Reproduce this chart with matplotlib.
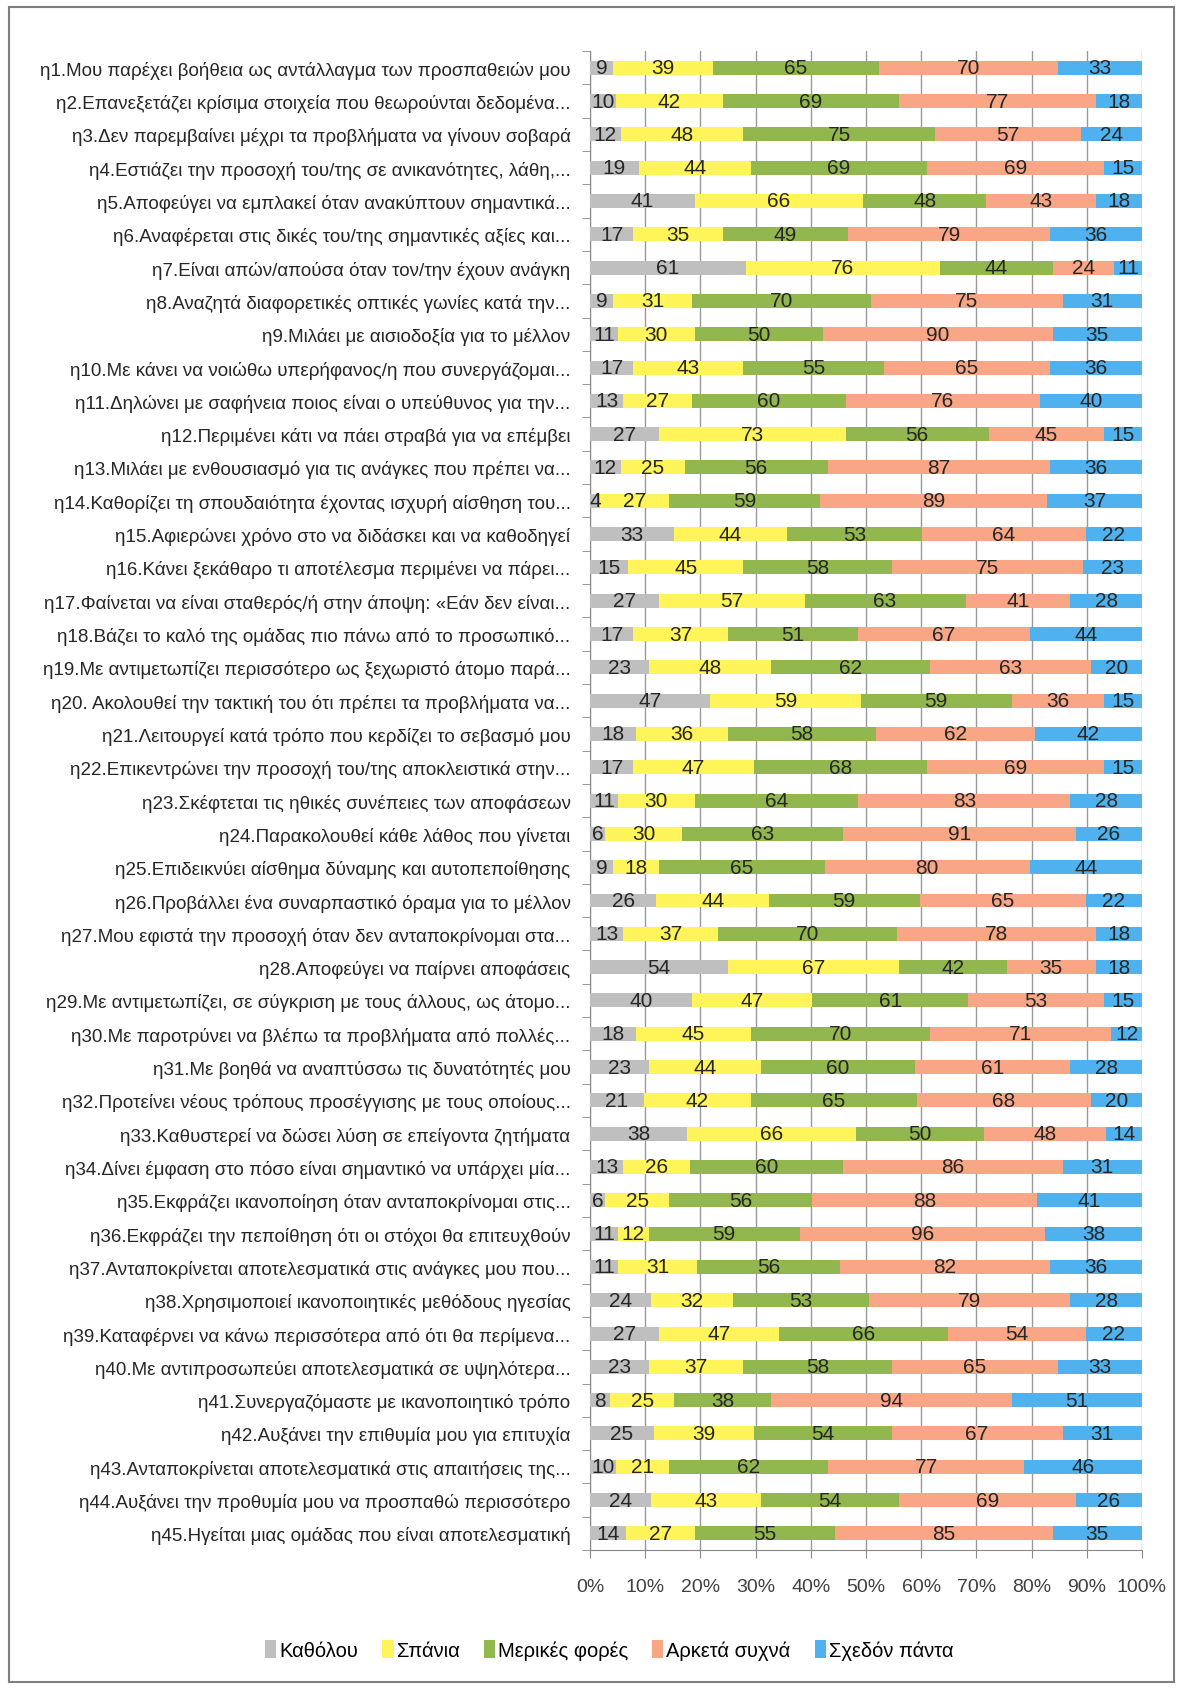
import numpy as np
import matplotlib.pyplot as plt
from matplotlib.patches import Rectangle

plt.rcParams['font.family'] = ['Liberation Sans', 'DejaVu Sans']

labels = [
    "η1.Μου παρέχει βοήθεια ως αντάλλαγμα των προσπαθειών μου",
    "η2.Επανεξετάζει κρίσιμα στοιχεία που θεωρούνται δεδομένα...",
    "η3.Δεν παρεμβαίνει μέχρι τα προβλήματα να γίνουν σοβαρά",
    "η4.Εστιάζει την προσοχή του/της σε ανικανότητες, λάθη,...",
    "η5.Αποφεύγει να εμπλακεί όταν ανακύπτουν σημαντικά...",
    "η6.Αναφέρεται στις δικές του/της σημαντικές αξίες και...",
    "η7.Είναι απών/απούσα όταν τον/την έχουν ανάγκη",
    "η8.Αναζητά διαφορετικές οπτικές γωνίες κατά την...",
    "η9.Μιλάει με αισιοδοξία για το μέλλον",
    "η10.Με κάνει να νοιώθω υπερήφανος/η που συνεργάζομαι...",
    "η11.Δηλώνει με σαφήνεια ποιος είναι ο υπεύθυνος για την...",
    "η12.Περιμένει κάτι να πάει στραβά για να επέμβει",
    "η13.Μιλάει με ενθουσιασμό για τις ανάγκες που πρέπει να...",
    "η14.Καθορίζει τη σπουδαιότητα έχοντας ισχυρή αίσθηση του...",
    "η15.Αφιερώνει χρόνο στο να διδάσκει και να καθοδηγεί",
    "η16.Κάνει ξεκάθαρο τι αποτέλεσμα περιμένει να πάρει...",
    "η17.Φαίνεται να είναι σταθερός/ή στην άποψη: «Εάν δεν είναι...",
    "η18.Βάζει το καλό της ομάδας πιο πάνω από το προσωπικό...",
    "η19.Με αντιμετωπίζει περισσότερο ως ξεχωριστό άτομο παρά...",
    "η20. Ακολουθεί την τακτική του ότι πρέπει τα προβλήματα να...",
    "η21.Λειτουργεί κατά τρόπο που κερδίζει το σεβασμό μου",
    "η22.Επικεντρώνει την προσοχή του/της αποκλειστικά στην...",
    "η23.Σκέφτεται τις ηθικές συνέπειες των αποφάσεων",
    "η24.Παρακολουθεί κάθε λάθος που γίνεται",
    "η25.Επιδεικνύει αίσθημα δύναμης και αυτοπεποίθησης",
    "η26.Προβάλλει ένα συναρπαστικό όραμα για το μέλλον",
    "η27.Μου εφιστά την προσοχή όταν δεν ανταποκρίνομαι στα...",
    "η28.Αποφεύγει να παίρνει αποφάσεις",
    "η29.Με αντιμετωπίζει, σε σύγκριση με τους άλλους, ως άτομο...",
    "η30.Με παροτρύνει να βλέπω τα προβλήματα από πολλές...",
    "η31.Με βοηθά να αναπτύσσω τις δυνατότητές μου",
    "η32.Προτείνει νέους τρόπους προσέγγισης με τους οποίους...",
    "η33.Καθυστερεί να δώσει λύση σε επείγοντα ζητήματα",
    "η34.Δίνει έμφαση στο πόσο είναι σημαντικό να υπάρχει μία...",
    "η35.Εκφράζει ικανοποίηση όταν ανταποκρίνομαι στις...",
    "η36.Εκφράζει την πεποίθηση ότι οι στόχοι θα επιτευχθούν",
    "η37.Ανταποκρίνεται αποτελεσματικά στις ανάγκες μου που...",
    "η38.Χρησιμοποιεί ικανοποιητικές μεθόδους ηγεσίας",
    "η39.Καταφέρνει να κάνω περισσότερα από ότι θα περίμενα...",
    "η40.Με αντιπροσωπεύει αποτελεσματικά σε υψηλότερα...",
    "η41.Συνεργαζόμαστε με ικανοποιητικό τρόπο",
    "η42.Αυξάνει την επιθυμία μου για επιτυχία",
    "η43.Ανταποκρίνεται αποτελεσματικά στις απαιτήσεις της...",
    "η44.Αυξάνει την προθυμία μου να προσπαθώ περισσότερο",
    "η45.Ηγείται μιας ομάδας που είναι αποτελεσματική",
]

series_names = ["Καθόλου", "Σπάνια", "Μερικές φορές", "Αρκετά συχνά", "Σχεδόν πάντα"]

katholou = [9, 10, 12, 19, 41, 17, 61, 9, 11, 17, 13, 27, 12, 4, 33, 15, 27, 17, 23, 47, 18, 17, 11,
            6, 9, 26, 13, 54, 40, 18, 23, 21, 38, 13, 6, 11, 11, 24, 27, 23, 8, 25, 10, 24, 14]
spania = [39, 42, 48, 44, 66, 35, 76, 31, 30, 43, 27, 73, 25, 27, 44, 45, 57, 37, 48, 59, 36, 47, 30,
          30, 18, 44, 37, 67, 47, 45, 44, 42, 66, 26, 25, 12, 31, 32, 47, 37, 25, 39, 21, 43, 27]
merikes = [65, 69, 75, 69, 48, 49, 44, 70, 50, 55, 60, 56, 56, 59, 53, 58, 63, 51, 62, 59, 58, 68, 64,
           63, 65, 59, 70, 42, 61, 70, 60, 65, 50, 60, 56, 59, 56, 53, 66, 58, 38, 54, 62, 54, 55]
arketa = [70, 77, 57, 69, 43, 79, 24, 75, 90, 65, 76, 45, 87, 89, 64, 75, 41, 67, 63, 36, 62, 69, 83,
          91, 80, 65, 78, 35, 53, 71, 61, 68, 48, 86, 88, 96, 82, 79, 54, 65, 94, 67, 77, 69, 85]
schedon = [33, 18, 24, 15, 18, 36, 11, 31, 35, 36, 40, 15, 36, 37, 22, 23, 28, 44, 20, 15, 42, 15, 28,
           26, 44, 22, 18, 18, 15, 12, 28, 20, 14, 31, 41, 38, 36, 28, 22, 33, 51, 31, 46, 26, 35]

colors = ['#BFBFBF', '#FFF55A', '#92B74E', '#F9A686', '#4FB2EE']

data = np.array([katholou, spania, merikes, arketa, schedon], dtype=float)
totals = data.sum(axis=0)
pct = data / totals * 100

fig = plt.figure(figsize=(11.83, 16.90), dpi=100)
ax = fig.add_axes([0.4987, 0.0822, 0.4666, 0.887])

y = np.arange(len(labels))
left = np.zeros(len(labels))
for k in range(5):
    ax.barh(y, pct[k], left=left, height=0.42, color=colors[k], label=series_names[k], zorder=3)
    for i in range(len(labels)):
        ax.text(left[i] + pct[k][i] / 2, y[i], str(int(data[k][i])), ha='center', va='center',
                fontsize=15, color='#262626', zorder=4)
    left = left + pct[k]

ax.set_xlim(0, 100)
ax.set_ylim(len(labels) - 0.5, -0.5)
ax.set_yticks(y)
ax.set_yticklabels(labels, fontsize=13.5, color='#262626')
ax.set_yticks(np.arange(-0.5, len(labels), 1), minor=True)
ax.tick_params(axis='y', which='major', length=0, pad=14)
ax.tick_params(axis='y', which='minor', length=6, color='#888888')
ax.set_xticks(np.arange(0, 101, 10))
ax.set_xticklabels([str(v) + '%' for v in range(0, 101, 10)], fontsize=14, color='#404040')
ax.tick_params(axis='x', length=6, color='#888888', pad=14)
ax.grid(axis='x', color='#999999', linewidth=1, zorder=0)
for s in ['top', 'right']:
    ax.spines[s].set_visible(False)
ax.spines['left'].set_color('#888888')
ax.spines['bottom'].set_color('#888888')

fig.legend(loc='center', bbox_to_anchor=(0.515, 0.023), ncol=5, frameon=False, fontsize=14.5,
           handlelength=0.55, handleheight=1.0, handletextpad=0.15, columnspacing=1.2)

fig.patches.append(Rectangle((0.008, 0.004), 0.984, 0.991, transform=fig.transFigure,
                             fill=False, edgecolor='#7f7f7f', linewidth=1.5))

plt.savefig('out.png')
